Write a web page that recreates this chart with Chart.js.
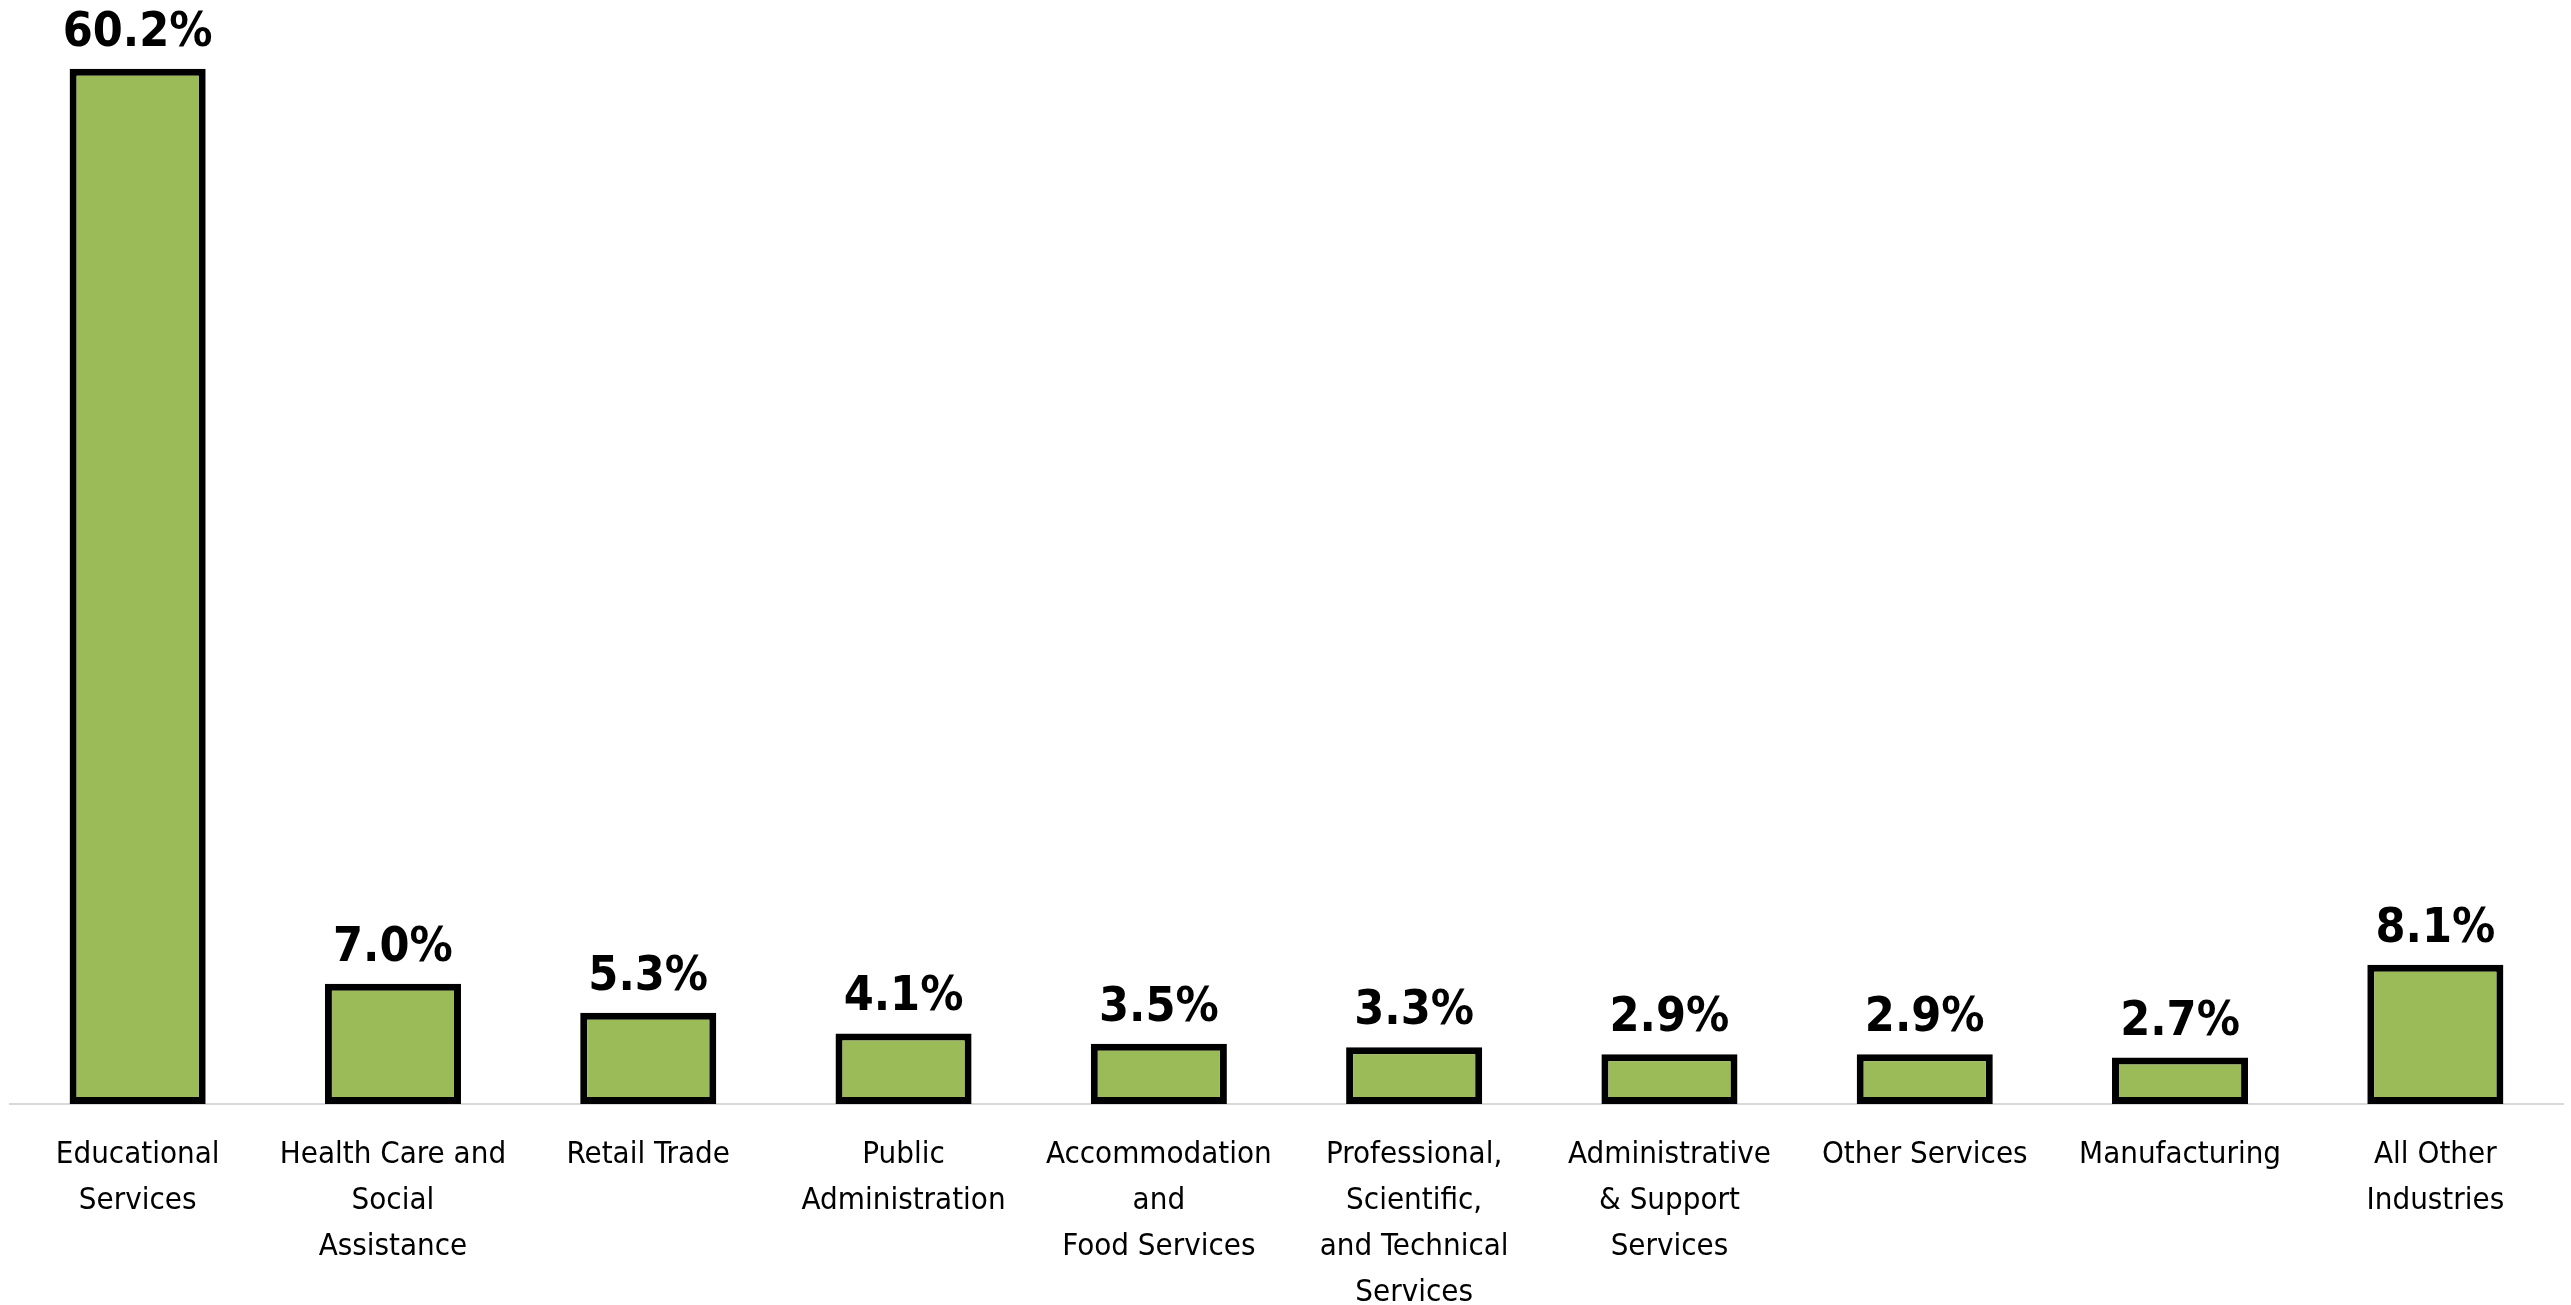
<!DOCTYPE html>
<html>
<head>
<meta charset="utf-8">
<script src="https://cdn.jsdelivr.net/npm/chart.js@4"></script>
<style>
  html, body { margin: 0; padding: 0; background: #fff; }
  #wrap { width: 2571px; height: 1305px; position: relative; }
</style>
</head>
<body>
<div id="wrap"><canvas id="industryChart"></canvas></div>
<script>
// industries (multi-line tick labels) and their share, in percent
const industries = [
  ['Educational', 'Services'],
  ['Health Care and', 'Social', 'Assistance'],
  ['Retail Trade'],
  ['Public', 'Administration'],
  ['Accommodation', 'and', 'Food Services'],
  ['Professional,', 'Scientific,', 'and Technical', 'Services'],
  ['Administrative', '& Support', 'Services'],
  ['Other Services'],
  ['Manufacturing'],
  ['All Other', 'Industries']
];
const shares = [60.2, 7.0, 5.3, 4.1, 3.5, 3.3, 2.9, 2.9, 2.7, 8.1];

const FONT = "'Liberation Sans Narrow', 'DejaVu Sans Condensed', 'Liberation Sans', sans-serif";

// draws the value above each bar
const valueLabels = {
  id: 'valueLabels',
  afterDatasetsDraw(chart) {
    const ctx = chart.ctx;
    const meta = chart.getDatasetMeta(0);
    ctx.save();
    ctx.font = 'bold 48px ' + FONT;
    ctx.fillStyle = '#000';
    ctx.textAlign = 'center';
    ctx.textBaseline = 'alphabetic';
    meta.data.forEach((bar, i) => {
      ctx.fillText(shares[i].toFixed(1) + '%', bar.x, bar.y - 23);
    });
    ctx.restore();
  }
};

const ctx = document.getElementById('industryChart').getContext('2d');
new Chart(ctx, {
  type: 'bar',
  data: {
    labels: industries,
    datasets: [{
      data: shares,
      backgroundColor: '#9BBB59',
      borderColor: '#000',
      borderWidth: 7,
      borderSkipped: false,
      barPercentage: 0.533,
      categoryPercentage: 1
    }]
  },
  options: {
    responsive: true,
    maintainAspectRatio: false,
    animation: false,
    layout: { padding: { left: 10, right: 8, top: 0, bottom: 0 } },
    plugins: {
      legend: { display: false },
      tooltip: { enabled: false }
    },
    scales: {
      x: {
        grid: { display: false, drawTicks: false },
        border: { display: true, color: '#d9d9d9', width: 2 },
        ticks: {
          color: '#000',
          font: { family: FONT, size: 31, lineHeight: '46px' },
          padding: 28,
          maxRotation: 0,
          minRotation: 0,
          autoSkip: false
        },
        afterFit(scale) { scale.height = 201; }
      },
      y: {
        display: false,
        min: 0,
        max: 64.2
      }
    }
  },
  plugins: [valueLabels]
});
</script>
</body>
</html>
